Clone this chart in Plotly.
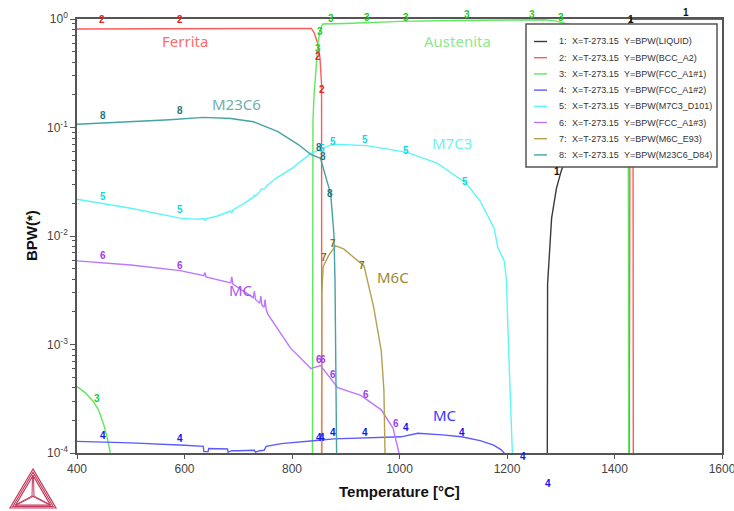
import math
import plotly.graph_objects as go

# ---------------- data ----------------
ids = ["1", "2", "3", "4", "5", "6", "7", "8"]
names = ["LIQUID", "BCC_A2", "FCC_A1#1", "FCC_A1#2", "M7C3_D101", "FCC_A1#3", "M6C_E93", "M23C6_D84"]

t1 = [1275, 1275.5, 1283, 1292, 1301, 1330, 1360, 1390, 1410, 1420, 1426, 1432, 1500, 1600]
y1 = [1e-4, 3.6e-3, 0.0146, 0.0275, 0.04, 0.09, 0.17, 0.3, 0.45, 0.6, 0.9, 1.0, 1.0, 1.0]

t2 = [400, 500, 600, 700, 800, 836, 841, 847, 852, 855, 855.4, None,
      1427.5, 1428, 1429, 1431, 1434.5, 1435]
y2 = [0.81, 0.815, 0.82, 0.82, 0.82, 0.82, 0.75, 0.615, 0.44, 0.25, 1e-4, None,
      1e-4, 0.1, 0.5, 0.55, 0.1, 1e-4]

t3 = [400, 415, 430, 440, 450, 456, 462, None,
      838, 838.5, 839, 841, 844, 848.5, 852, 857, 900, 1000, 1100, 1200, 1270,
      1290, 1320, 1350, 1380, 1400, 1415, 1422, 1425.5, 1426, 1426.3]
y3 = [4.1e-4, 3.6e-4, 3.0e-4, 2.5e-4, 1.8e-4, 1.4e-4, 1e-4, None,
      1e-4, 0.02, 0.115, 0.2, 0.33, 0.61, 0.78, 0.9, 0.91, 0.95, 0.97, 0.98, 0.985,
      0.96, 0.88, 0.75, 0.6, 0.45, 0.3, 0.15, 0.08, 0.01, 1e-4]

t4 = [400, 500, 600, 635, 636, 644, 645, 680, 681, 688, 700, 720, 730, 732, 740,
      748, 752, 780, 820, 850, 878, 950, 1003, 1034, 1080, 1115, 1150, 1175, 1188, 1195]
y4 = [1.28e-4, 1.24e-4, 1.18e-4, 1.15e-4, 1.03e-4, 1.03e-4, 1.1e-4, 1.09e-4, 1.02e-4,
      1.05e-4, 1.05e-4, 1.06e-4, 1.06e-4, 1.02e-4, 1.05e-4, 1.06e-4, 1.15e-4, 1.22e-4,
      1.28e-4, 1.31e-4, 1.35e-4, 1.38e-4, 1.41e-4, 1.52e-4, 1.47e-4, 1.41e-4, 1.3e-4,
      1.18e-4, 1.08e-4, 1e-4]

t5 = [400, 500, 592, 616, 637, 639, 641, 660, 686, 688, 690, 710, 728, 730, 732, 740,
      742, 750, 752, 770, 800, 835, 850, 865, 878, 939, 1014, 1070, 1124, 1150, 1176,
      1183, 1195, 1199, 1202, 1208, 1210]
y5 = [0.0218, 0.018, 0.0146, 0.0143, 0.0144, 0.0138, 0.0145, 0.0152, 0.017, 0.0162,
      0.0174, 0.0198, 0.0228, 0.0238, 0.0233, 0.0255, 0.0268, 0.0275, 0.0288, 0.034,
      0.042, 0.0577, 0.062, 0.067, 0.07, 0.068, 0.059, 0.047, 0.0306, 0.021, 0.0118,
      0.0078, 0.0059, 0.0039, 0.00126, 2e-4, 1e-4]

t6 = [400, 500, 592, 636, 638, 640, 686, 688, 690, 728, 730, 732, 740, 742, 744, 748,
      750, 752, 755, 773, 797, 835, 853, 885, 928, 966, 988, 999]
y6 = [0.0059, 0.0054, 0.0048, 0.0043, 0.0046, 0.0042, 0.0037, 0.0042, 0.0036, 0.0027,
      0.0031, 0.0026, 0.0024, 0.0028, 0.0023, 0.0022, 0.0026, 0.0021, 0.0019, 0.0014,
      0.00093, 0.0006, 0.00064, 0.0004, 0.00034, 0.00025, 0.00017, 1e-4]

t7 = [855, 855.5, 858, 868, 881, 896, 934, 952, 966, 971, 973]
y7 = [1e-4, 0.003, 0.0052, 0.0066, 0.0081, 0.0076, 0.0053, 0.0022, 0.00088, 0.00038, 1e-4]

t8 = [400, 500, 573, 635, 686, 728, 773, 811, 835, 853, 872, 878, 880, 883]
y8 = [0.107, 0.113, 0.118, 0.124, 0.121, 0.113, 0.092, 0.07, 0.0565, 0.052, 0.0243,
      0.0104, 0.0039, 1e-4]

# curve-number labels (temperature, value)
lb1_t = [1293, 1431, 1533]
lb1_y = [0.0389, 1.0, 1.16]
lb2_t = [447, 592, 848, 856]
lb2_y = [0.98, 0.98, 0.447, 0.222]
lb3_t = [437, 873, 940, 1012, 1126, 1247, 1300, 848, 852]
lb3_y = [3.21e-4, 1.02, 1.04, 1.04, 1.11, 1.11, 1.04, 0.54, 0.775]
lb4_t = [448, 592, 850, 856, 876, 936, 1012, 1116, 1230, 1276]
lb4_y = [1.44e-4, 1.35e-4, 1.4e-4, 1.4e-4, 1.53e-4, 1.56e-4, 1.7e-4, 1.53e-4, 9.2e-5, 5.2e-5]
lb5_t = [448, 592, 856, 876, 936, 1012, 1122]
lb5_y = [0.0229, 0.0174, 0.0647, 0.075, 0.0783, 0.062, 0.0315]
lb6_t = [448, 592, 850, 858, 876, 938, 994]
lb6_y = [0.00668, 0.0054, 7.35e-4, 7.35e-4, 5.24e-4, 3.43e-4, 1.89e-4]
lb7_t = [860, 876, 930]
lb7_y = [0.00627, 0.0086, 0.0054]
lb8_t = [448, 592, 850, 858, 871]
lb8_y = [0.128, 0.142, 0.066, 0.0535, 0.0249]

# phase region names (temperature, value)
region_text = ["Ferrita", "Austenita", "M23C6", "M7C3", "MC", "M6C", "MC"]
region_t = [601, 1107, 696, 1098, 705, 988, 1085]
region_y = [0.627, 0.627, 0.165, 0.072, 0.00318, 0.00419, 2.24e-4]

x_ticks = [400, 600, 800, 1000, 1200, 1400, 1600]
y_ticks = [1e-4, 1e-3, 1e-2, 1e-1, 1]
y_ticktext = ["10<sup>-4</sup>", "10<sup>-3</sup>", "10<sup>-2</sup>", "10<sup>-1</sup>", "10<sup>0</sup>"]

# ---------------- styles ----------------
line_colors = ["#3a3a3a", "#ff5a5a", "#5ee85e", "#5a5aff", "#5ef5f5", "#bb77ff", "#b3a150", "#45a3a3"]
label_colors = ["#111111", "#ee2222", "#22cc22", "#1515ee", "#10d8e0", "#a040e8", "#857220", "#1f7878"]
region_colors = ["#ff6b6b", "#8ee88e", "#6fb0b0", "#6ff0f0", "#a855e8", "#9a8a38", "#3838ff"]

W, H = 734, 511
L, R, T, B = 77, 12, 19, 58
PW, PH = W - L - R, H - T - B
YMIN, YMAX = -4, 0


def xp(px):
    return (px - L) / PW


def yp(py):
    return (H - B - py) / PH


def ypaper_from_value(v):
    return (math.log10(v) - YMIN) / (YMAX - YMIN)


series_t = [t1, t2, t3, t4, t5, t6, t7, t8]
series_y = [y1, y2, y3, y4, y5, y6, y7, y8]
labels_t = [lb1_t, lb2_t, lb3_t, lb4_t, lb5_t, lb6_t, lb7_t, lb8_t]
labels_y = [lb1_y, lb2_y, lb3_y, lb4_y, lb5_y, lb6_y, lb7_y, lb8_y]

fig = go.Figure()
for i in range(8):
    fig.add_trace(go.Scatter(
        x=series_t[i], y=series_y[i], mode="lines",
        line=dict(color=line_colors[i], width=1.4),
        name=f"{ids[i]}: X=T-273.15 Y=BPW({names[i]})",
        showlegend=False, hoverinfo="skip"))

annotations = []
lab_font = dict(family="Liberation Sans", size=10, weight="bold")
for i in range(8):
    for tt, vv in zip(labels_t[i], labels_y[i]):
        annotations.append(dict(
            x=tt, y=ypaper_from_value(vv), xref="x", yref="paper", text=ids[i],
            xanchor="center", yanchor="middle",
            showarrow=False, font=dict(color=label_colors[i], **lab_font)))

for txt, tt, vv, c in zip(region_text, region_t, region_y, region_colors):
    annotations.append(dict(
        x=tt, y=math.log10(vv), xref="x", yref="y", text=txt, showarrow=False,
        xanchor="center", yanchor="middle",
        font=dict(family="Noto Sans", size=15, color=c)))

# axis titles
annotations.append(dict(x=0.5, y=yp(491), xref="paper", yref="paper",
                        text="Temperature [°C]", showarrow=False,
                        xanchor="center", yanchor="middle",
                        font=dict(family="Liberation Sans", size=15, color="#111", weight="bold")))
annotations.append(dict(x=xp(31), y=yp(236), xref="paper", yref="paper",
                        text="BPW(*)", showarrow=False, textangle=-90,
                        xanchor="center", yanchor="middle",
                        font=dict(family="Liberation Sans", size=15, color="#111", weight="bold")))

shapes = []
# manual legend box
lx0, lx1, ly0, ly1 = 526, 717, 24, 167
shapes.append(dict(type="rect", xref="paper", yref="paper", layer="above",
                   x0=xp(lx0), x1=xp(lx1), y0=yp(ly1), y1=yp(ly0),
                   fillcolor="white", line=dict(color="#555555", width=1.5)))
leg_font = dict(family="Liberation Sans", size=9, color="#333333")
for i in range(8):
    ry = 41.5 + i * 16.2
    shapes.append(dict(type="line", xref="paper", yref="paper", layer="above",
                       x0=xp(534), x1=xp(547), y0=yp(ry), y1=yp(ry),
                       line=dict(color=line_colors[i], width=1.4)))
    for txt, px in ((f"{ids[i]}:", 557), ("X=T-273.15", 570), (f"Y=BPW({names[i]})", 622)):
        annotations.append(dict(x=xp(px), y=yp(ry), xref="paper", yref="paper",
                                text=txt, showarrow=False, xanchor="left",
                                yanchor="middle", font=leg_font))

# logo (Thermo-Calc style triangle)
logo_c = "#c23a5e"
apex, bl, br = (33, 469), (10, 508), (56, 508)
cen = (33, 496)


def tri_path(a, b, c):
    return (f"M {xp(a[0])},{yp(a[1])} L {xp(b[0])},{yp(b[1])} "
            f"L {xp(c[0])},{yp(c[1])} Z")


def shrink(p, k):
    return (cen[0] + (p[0] - cen[0]) * k, cen[1] + (p[1] - cen[1]) * k)


for k in (1.0, 0.88, 0.76):
    shapes.append(dict(type="path", xref="paper", yref="paper",
                       path=tri_path(shrink(apex, k), shrink(bl, k), shrink(br, k)),
                       line=dict(color=logo_c, width=1.2)))
for v in (apex, bl, br):
    for off in (-1.0, 1.0):
        shapes.append(dict(type="line", xref="paper", yref="paper",
                           x0=xp(cen[0] + off), y0=yp(cen[1]),
                           x1=xp(shrink(v, 0.76)[0] + off * 0.5), y1=yp(shrink(v, 0.76)[1]),
                           line=dict(color=logo_c, width=1)))

minor_vals = [k * 10 ** e for e in range(-4, 0) for k in range(2, 10)]

fig.update_layout(
    width=W, height=H, autosize=False,
    margin=dict(l=L, r=R, t=T, b=B, autoexpand=False),
    paper_bgcolor="white", plot_bgcolor="white",
    showlegend=False,
    annotations=annotations, shapes=shapes,
    xaxis=dict(range=[400, 1600], tickvals=x_ticks, ticks="outside", ticklen=4,
               tickcolor="#555", showline=True, linecolor="#555", linewidth=1.6,
               mirror=True, showgrid=False, zeroline=False, automargin=False,
               ticklabeloverflow="allow",
               tickfont=dict(family="Liberation Sans", size=12, color="#444")),
    yaxis=dict(type="log", range=[YMIN, YMAX], tickvals=y_ticks, ticktext=y_ticktext,
               ticks="outside", ticklen=5, tickcolor="#555", showline=True,
               linecolor="#555", linewidth=1.6, mirror=True, showgrid=False,
               zeroline=False, automargin=False, ticklabeloverflow="allow",
               minor=dict(tickvals=minor_vals, ticks="outside", ticklen=3,
                          tickcolor="#555", showgrid=False),
               tickfont=dict(family="Liberation Sans", size=12, color="#444")),
)

fig.write_html("out.html", config={"displayModeBar": False},
               post_script="document.body.style.margin='0px';document.body.style.overflow='hidden';")
